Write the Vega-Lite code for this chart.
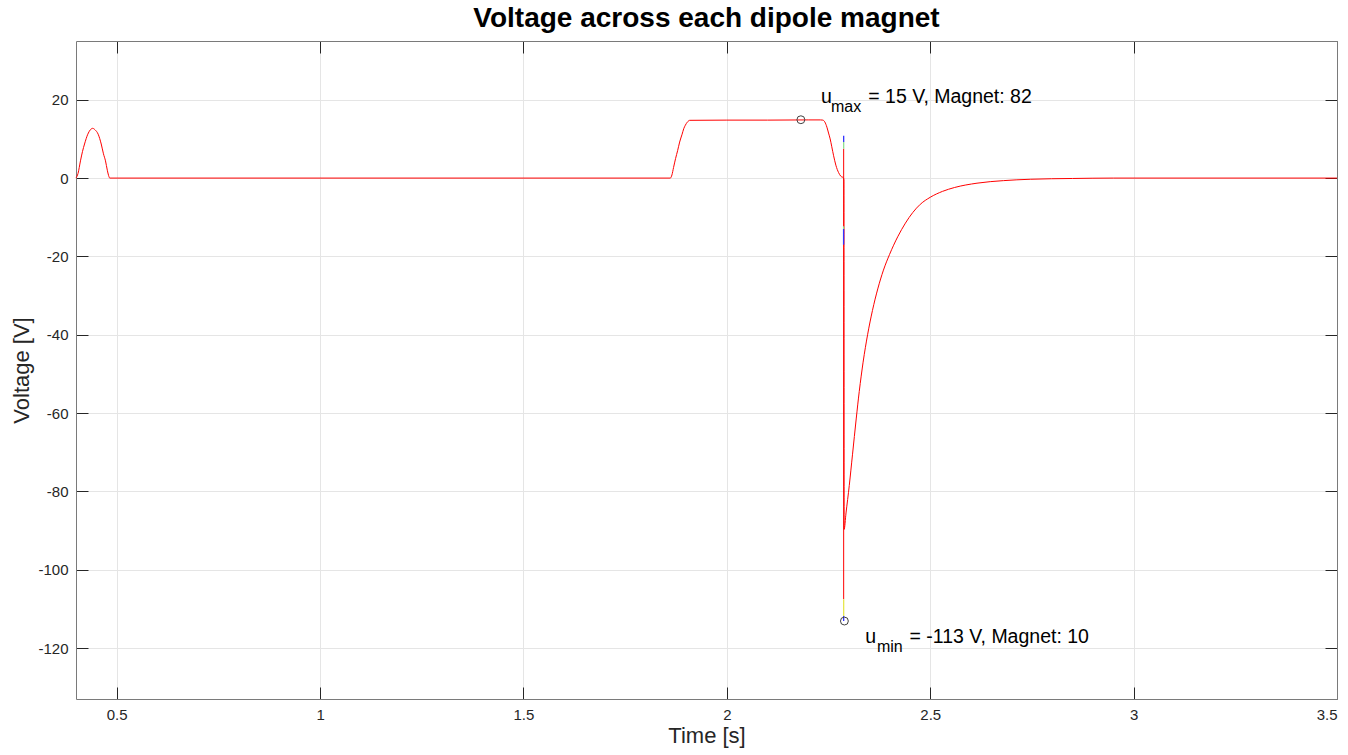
{
  "$schema": "https://vega.github.io/schema/vega-lite/v6.json",
  "width": 1261,
  "height": 658,
  "autosize": {"type": "none"},
  "padding": {"left": 76, "top": 41, "right": 11, "bottom": 56},
  "background": "white",
  "title": {"text": "Voltage across each dipole magnet", "font": "Liberation Sans", "fontSize": 28, "fontWeight": "bold", "color": "#000000", "anchor": "middle", "offset": 8},
  "config": {
    "view": {"stroke": null},
    "axis": {
      "labelFont": "Liberation Sans", "labelFontSize": 15, "labelColor": "#262626",
      "titleFont": "Liberation Sans", "titleFontSize": 22, "titleColor": "#262626", "titleFontWeight": "normal",
      "domainColor": "#7a7a7a", "tickColor": "#262626", "gridColor": "#e5e5e5",
      "tickSize": -12, "labelPadding": 20
    }
  },
  "datasets": {
    "curve": [
      {"t": 0.400, "v": 0}, {"t": 0.405, "v": 1.2}, {"t": 0.411, "v": 4.4}, {"t": 0.416, "v": 6.8},
      {"t": 0.421, "v": 8.7}, {"t": 0.429, "v": 11.2}, {"t": 0.435, "v": 12.3}, {"t": 0.441, "v": 12.7},
      {"t": 0.447, "v": 12.3}, {"t": 0.4545, "v": 11.2}, {"t": 0.462, "v": 8.7}, {"t": 0.4675, "v": 6.2},
      {"t": 0.4725, "v": 4.4}, {"t": 0.477, "v": 2.0}, {"t": 0.480, "v": 0.7}, {"t": 0.483, "v": 0},
      {"t": 1.861, "v": 0}, {"t": 1.865, "v": 0.8}, {"t": 1.869, "v": 2.7}, {"t": 1.874, "v": 5.0},
      {"t": 1.879, "v": 7.0}, {"t": 1.884, "v": 9.2}, {"t": 1.890, "v": 11.2}, {"t": 1.894, "v": 12.6},
      {"t": 1.898, "v": 13.5}, {"t": 1.903, "v": 14.3}, {"t": 1.909, "v": 14.75}, {"t": 2.000, "v": 14.8},
      {"t": 2.100, "v": 14.8}, {"t": 2.200, "v": 14.85}, {"t": 2.230, "v": 14.85}, {"t": 2.236, "v": 14.8},
      {"t": 2.241, "v": 14.3}, {"t": 2.246, "v": 13.0}, {"t": 2.250, "v": 11.5}, {"t": 2.254, "v": 10.0},
      {"t": 2.258, "v": 8.0}, {"t": 2.2625, "v": 5.7}, {"t": 2.268, "v": 3.3}, {"t": 2.2747, "v": 1.4},
      {"t": 2.280, "v": 0.5}, {"t": 2.2865, "v": 0.05}, {"t": 2.2878, "v": -0.5}, {"t": 2.2883, "v": -89.7},
      {"t": 2.2930, "v": -85.5}, {"t": 2.3010, "v": -78.5}, {"t": 2.3090, "v": -70.5}, {"t": 2.3180, "v": -61.5},
      {"t": 2.3255, "v": -54.5}, {"t": 2.3350, "v": -47}, {"t": 2.3460, "v": -40}, {"t": 2.3580, "v": -33.8},
      {"t": 2.3710, "v": -28.3}, {"t": 2.3850, "v": -23.5}, {"t": 2.4000, "v": -19.5}, {"t": 2.4200, "v": -15},
      {"t": 2.4390, "v": -11.5}, {"t": 2.4570, "v": -8.8}, {"t": 2.4755, "v": -6.7}, {"t": 2.5000, "v": -4.9},
      {"t": 2.5300, "v": -3.4}, {"t": 2.5600, "v": -2.4}, {"t": 2.6150, "v": -1.3}, {"t": 2.6800, "v": -0.65},
      {"t": 2.7460, "v": -0.3}, {"t": 2.8500, "v": -0.1}, {"t": 2.9500, "v": 0}, {"t": 3.5000, "v": 0}
    ],
    "spikes": [
      {"s": "red", "i": 0, "t": 2.2872, "v": 7.5}, {"s": "red", "i": 1, "t": 2.2872, "v": -107.5},
      {"s": "b1", "i": 0, "t": 2.2872, "v": 10.8}, {"s": "b1", "i": 1, "t": 2.2872, "v": 9.2},
      {"s": "b2", "i": 0, "t": 2.2870, "v": -13}, {"s": "b2", "i": 1, "t": 2.2870, "v": -17},
      {"s": "b3", "i": 0, "t": 2.2872, "v": -111.8}, {"s": "b3", "i": 1, "t": 2.2872, "v": -113.1},
      {"s": "g1", "i": 0, "t": 2.2872, "v": 9.2}, {"s": "g1", "i": 1, "t": 2.2872, "v": 7.5},
      {"s": "g2", "i": 0, "t": 2.2870, "v": -12.3}, {"s": "g2", "i": 1, "t": 2.2870, "v": -13},
      {"s": "y1", "i": 0, "t": 2.2872, "v": -107.5}, {"s": "y1", "i": 1, "t": 2.2872, "v": -111.8}
    ],
    "extrema": [
      {"t": 2.182, "v": 14.9},
      {"t": 2.289, "v": -113.1}
    ],
    "labels": [
      {"t": 2.2314, "v": 19.05, "text": "u", "part": "main"},
      {"t": 2.2560, "v": 19.05, "text": "max", "part": "sub"},
      {"t": 2.3477, "v": 19.05, "text": "= 15 V, Magnet: 82", "part": "main"},
      {"t": 2.3403, "v": -118.77, "text": "u", "part": "main"},
      {"t": 2.3690, "v": -118.77, "text": "min", "part": "sub"},
      {"t": 2.4491, "v": -118.77, "text": "= -113 V, Magnet: 10", "part": "main"}
    ]
  },
  "resolve": {"axis": {"x": "independent", "y": "independent"}},
  "layer": [
    {
      "data": {"name": "extrema"},
      "mark": {"type": "point", "opacity": 0},
      "encoding": {
        "x": {"field": "t", "type": "quantitative", "scale": {"domain": [0.4, 3.5], "nice": false, "zero": false},
              "axis": {"orient": "top", "values": [0.5, 1, 1.5, 2, 2.5, 3, 3.5], "labels": false, "grid": false, "title": null}},
        "y": {"field": "v", "type": "quantitative", "scale": {"domain": [-133, 35], "nice": false, "zero": false},
              "axis": {"orient": "right", "values": [-120, -100, -80, -60, -40, -20, 0, 20], "labels": false, "grid": false, "title": null}}
      }
    },
    {
      "data": {"name": "spikes"},
      "transform": [{"filter": "datum.s === 'red'"}],
      "mark": {"type": "line", "color": "#ff0000", "strokeWidth": 1},
      "encoding": {
        "x": {"field": "t", "type": "quantitative", "scale": {"domain": [0.4, 3.5], "nice": false, "zero": false},
              "axis": {"orient": "bottom", "values": [0.5, 1, 1.5, 2, 2.5, 3, 3.5], "labelExpr": "toString(datum.value)", "grid": true, "title": "Time [s]", "titlePadding": 3}},
        "y": {"field": "v", "type": "quantitative", "scale": {"domain": [-133, 35], "nice": false, "zero": false},
              "axis": {"orient": "left", "values": [-120, -100, -80, -60, -40, -20, 0, 20], "labelExpr": "toString(datum.value)", "grid": true, "title": "Voltage [V]", "titlePadding": 4}},
        "order": {"field": "i"}
      }
    },
    {
      "data": {"name": "curve"},
      "mark": {"type": "line", "color": "#ff0000", "strokeWidth": 1, "interpolate": "monotone"},
      "encoding": {
        "x": {"field": "t", "type": "quantitative", "scale": {"domain": [0.4, 3.5], "nice": false, "zero": false}, "axis": null},
        "y": {"field": "v", "type": "quantitative", "scale": {"domain": [-133, 35], "nice": false, "zero": false}, "axis": null}
      }
    },
    {
      "data": {"name": "spikes"},
      "transform": [{"filter": "datum.s === 'b1' || datum.s === 'b2' || datum.s === 'b3'"}],
      "mark": {"type": "line", "color": "#3333ff", "strokeWidth": 1.3},
      "encoding": {
        "x": {"field": "t", "type": "quantitative", "scale": {"domain": [0.4, 3.5], "nice": false, "zero": false}, "axis": null},
        "y": {"field": "v", "type": "quantitative", "scale": {"domain": [-133, 35], "nice": false, "zero": false}, "axis": null},
        "detail": {"field": "s"},
        "order": {"field": "i"}
      }
    },
    {
      "data": {"name": "spikes"},
      "transform": [{"filter": "datum.s === 'g1' || datum.s === 'g2'"}],
      "mark": {"type": "line", "color": "#8fe08f", "strokeWidth": 1.3},
      "encoding": {
        "x": {"field": "t", "type": "quantitative", "scale": {"domain": [0.4, 3.5], "nice": false, "zero": false}, "axis": null},
        "y": {"field": "v", "type": "quantitative", "scale": {"domain": [-133, 35], "nice": false, "zero": false}, "axis": null},
        "detail": {"field": "s"},
        "order": {"field": "i"}
      }
    },
    {
      "data": {"name": "spikes"},
      "transform": [{"filter": "datum.s === 'y1'"}],
      "mark": {"type": "line", "color": "#e6e64d", "strokeWidth": 1.3},
      "encoding": {
        "x": {"field": "t", "type": "quantitative", "scale": {"domain": [0.4, 3.5], "nice": false, "zero": false}, "axis": null},
        "y": {"field": "v", "type": "quantitative", "scale": {"domain": [-133, 35], "nice": false, "zero": false}, "axis": null},
        "order": {"field": "i"}
      }
    },
    {
      "data": {"name": "extrema"},
      "mark": {"type": "point", "shape": "circle", "filled": false, "stroke": "#404040", "strokeWidth": 1, "size": 62, "opacity": 1},
      "encoding": {
        "x": {"field": "t", "type": "quantitative", "scale": {"domain": [0.4, 3.5], "nice": false, "zero": false}, "axis": null},
        "y": {"field": "v", "type": "quantitative", "scale": {"domain": [-133, 35], "nice": false, "zero": false}, "axis": null}
      }
    },
    {
      "data": {"name": "labels"},
      "transform": [{"filter": "datum.part === 'main'"}],
      "mark": {"type": "text", "font": "Liberation Sans", "fontSize": 19.5, "color": "#000000", "align": "left", "baseline": "alphabetic"},
      "encoding": {
        "x": {"field": "t", "type": "quantitative", "scale": {"domain": [0.4, 3.5], "nice": false, "zero": false}, "axis": null},
        "y": {"field": "v", "type": "quantitative", "scale": {"domain": [-133, 35], "nice": false, "zero": false}, "axis": null},
        "text": {"field": "text"}
      }
    },
    {
      "data": {"name": "labels"},
      "transform": [{"filter": "datum.part === 'sub'"}],
      "mark": {"type": "text", "font": "Liberation Sans", "fontSize": 16, "color": "#000000", "align": "left", "baseline": "alphabetic", "dy": 9},
      "encoding": {
        "x": {"field": "t", "type": "quantitative", "scale": {"domain": [0.4, 3.5], "nice": false, "zero": false}, "axis": null},
        "y": {"field": "v", "type": "quantitative", "scale": {"domain": [-133, 35], "nice": false, "zero": false}, "axis": null},
        "text": {"field": "text"}
      }
    }
  ]
}
